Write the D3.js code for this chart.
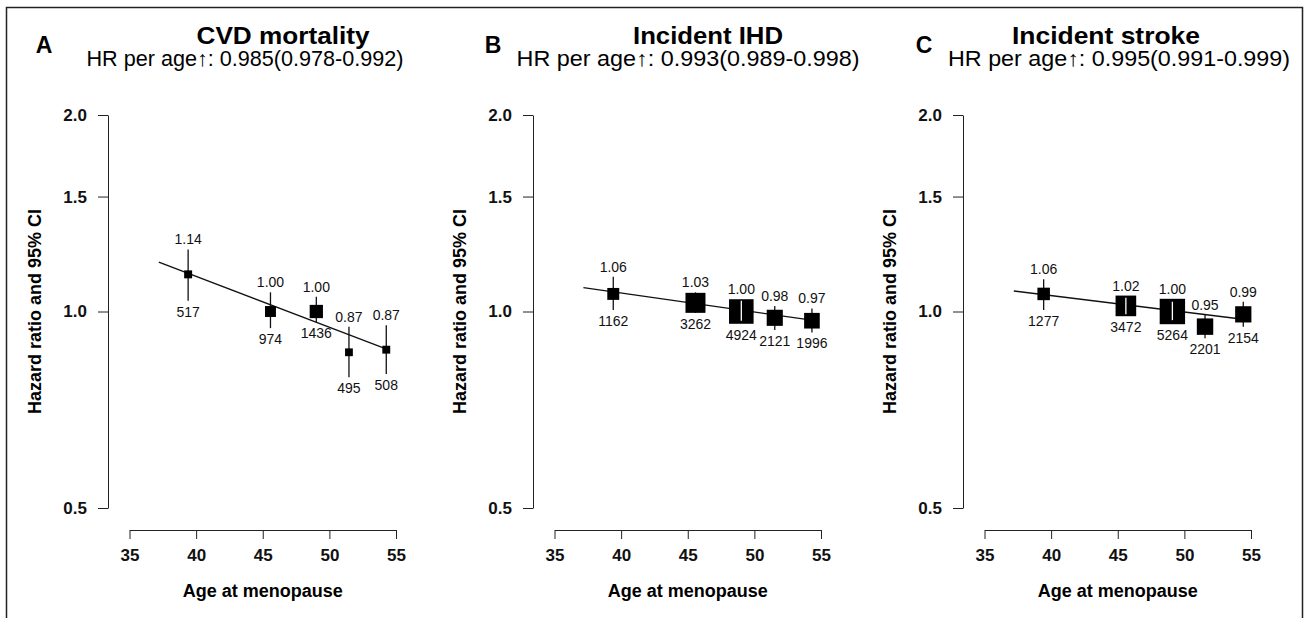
<!DOCTYPE html>
<html>
<head>
<meta charset="utf-8">
<script src="https://cdn.jsdelivr.net/npm/d3@7"></script>
<style>
  body { margin: 0; background: #fff; }
  svg { display: block; font-family: "Liberation Sans", Arial, sans-serif; }
</style>
</head>
<body>
<div id="chart"></div>
<script>
//Chart data
var letters = ["A", "B", "C"];
var titles = ["CVD mortality", "Incident IHD", "Incident stroke"];
var subtitles = [
  "HR per age\u2191: 0.985(0.978-0.992)",
  "HR per age\u2191: 0.993(0.989-0.998)",
  "HR per age\u2191: 0.995(0.991-0.999)"
];
var xTicks = [35, 40, 45, 50, 55];
var yTicks = [0.5, 1.0, 1.5, 2.0];
var ages = [
  [39.4, 45.58, 49.02, 51.47, 54.27],
  [39.41, 45.58, 49.02, 51.53, 54.32],
  [39.44, 45.61, 49.1, 51.55, 54.42]
];
var hr = [
  [1.14, 1.0, 1.0, 0.866, 0.874],
  [1.064, 1.031, 1.0, 0.978, 0.968],
  [1.064, 1.02, 1.0, 0.948, 0.99]
];
var ciLow = [
  [1.039, 0.943, 0.964, 0.793, 0.802],
  [1.005, 0.995, 0.968, 0.937, 0.929],
  [1.005, 0.99, 0.97, 0.91, 0.948]
];
var ciHigh = [
  [1.245, 1.07, 1.053, 0.948, 0.953],
  [1.13, 1.07, 1.039, 1.02, 1.011],
  [1.12, 1.05, 1.035, 0.988, 1.035]
];
var cases = [
  [517, 974, 1436, 495, 508],
  [1162, 3262, 4924, 2121, 1996],
  [1277, 3472, 5264, 2201, 2154]
];
var trendAge = [[37.2, 54.3], [37.17, 54.3], [37.2, 54.4]];
var trendHr = [[1.19, 0.876], [1.088, 0.97], [1.075, 0.973]];

//Layout of the three panels (y axis position, header positions and widths)
var layout = [
  { axisX: 108, letterX: 44, titleX: 283, titleW: 173, subX: 245, subW: 317 },
  { axisX: 533, letterX: 493, titleX: 708, titleW: 150, subX: 688, subW: 343 },
  { axisX: 963, letterX: 924, titleX: 1106, titleW: 188, subX: 1119, subW: 342 }
];
var W = 1307, H = 618;
var yTop = 115, yBottom = 508, xAxisY = 530;

var svg = d3.select("#chart").append("svg")
  .attr("width", W).attr("height", H);

//outer frame
svg.append("path")
  .attr("d", "M6.5," + H + "V7.5H1302.5V" + H)
  .attr("fill", "none")
  .attr("stroke", "#222")
  .attr("stroke-width", 1.5);

var y = d3.scaleLog().domain([0.5, 2]).range([yBottom, yTop]);
var size = d3.scaleSqrt().domain([0, 5264]).range([0, 25.4]);

letters.forEach(function (letter, p) {
  var L = layout[p];
  var x = d3.scaleLinear().domain([35, 55]).range([L.axisX + 21.5, L.axisX + 288]);
  var g = svg.append("g");

  //headers
  g.append("text").attr("x", L.letterX).attr("y", 53)
    .attr("text-anchor", "middle").style("font-size", "23px").style("font-weight", "bold")
    .text(letter);
  g.append("text").attr("x", L.titleX).attr("y", 44)
    .attr("text-anchor", "middle").style("font-size", "24px").style("font-weight", "bold")
    .attr("textLength", L.titleW).attr("lengthAdjust", "spacingAndGlyphs")
    .text(titles[p]);
  g.append("text").attr("x", L.subX).attr("y", 66)
    .attr("text-anchor", "middle").style("font-size", "21.5px")
    .attr("textLength", L.subW).attr("lengthAdjust", "spacingAndGlyphs")
    .text(subtitles[p]);

  // Y axis
  var ya = g.append("g")
    .attr("transform", "translate(" + L.axisX + ",0)")
    .call(d3.axisLeft(y).tickValues(yTicks).tickFormat(d3.format(".1f"))
      .tickSize(10).tickSizeOuter(0).tickPadding(11));
  ya.selectAll("path, line").attr("stroke", "#222");
  ya.selectAll("text").style("font-size", "17px").style("font-weight", "bold")
    .attr("fill", "#111").style("font-family", "inherit");

  g.append("text")
    .attr("transform", "translate(" + (L.axisX - 73) + "," + (yTop + yBottom) / 2 + ") rotate(-90)")
    .attr("text-anchor", "middle").attr("dy", "0.35em")
    .style("font-size", "18px").style("font-weight", "bold")
    .text("Hazard ratio and 95% CI");

  // X axis
  var xa = g.append("g")
    .attr("transform", "translate(0," + xAxisY + ")")
    .call(d3.axisBottom(x).tickValues(xTicks).tickSize(9).tickSizeOuter(0).tickPadding(10));
  xa.selectAll("path, line").attr("stroke", "#222");
  xa.selectAll("text").style("font-size", "17px").style("font-weight", "bold")
    .attr("fill", "#111").style("font-family", "inherit");

  g.append("text").attr("x", (x(35) + x(55)) / 2).attr("y", 597)
    .attr("text-anchor", "middle").style("font-size", "18px").style("font-weight", "bold")
    .text("Age at menopause");

  // trend line
  g.append("line")
    .attr("x1", x(trendAge[p][0])).attr("y1", y(trendHr[p][0]))
    .attr("x2", x(trendAge[p][1])).attr("y2", y(trendHr[p][1]))
    .attr("stroke", "#111").attr("stroke-width", 1.3);

  var rows = ages[p].map(function (a, i) {
    return { age: a, hr: hr[p][i], lo: ciLow[p][i], hi: ciHigh[p][i], n: cases[p][i] };
  });

  var pts = g.selectAll(".pt").data(rows).enter().append("g").attr("class", "pt");

  // CI drawn black under the box when it reaches past it
  pts.append("line")
    .attr("x1", function (d) { return x(d.age); })
    .attr("x2", function (d) { return x(d.age); })
    .attr("y1", function (d) { return y(d.hi); })
    .attr("y2", function (d) { return y(d.lo); })
    .attr("stroke", "#111").attr("stroke-width", 1.3);

  pts.append("rect")
    .attr("x", function (d) { return x(d.age) - size(d.n) / 2; })
    .attr("y", function (d) { return y(d.hr) - size(d.n) / 2; })
    .attr("width", function (d) { return size(d.n); })
    .attr("height", function (d) { return size(d.n); })
    .attr("fill", "#000");

  // white CI when the box hides it
  pts.filter(function (d) { return y(d.lo) - y(d.hi) < size(d.n); })
    .append("line")
    .attr("x1", function (d) { return x(d.age); })
    .attr("x2", function (d) { return x(d.age); })
    .attr("y1", function (d) { return y(d.hi); })
    .attr("y2", function (d) { return y(d.lo); })
    .attr("stroke", "#fff").attr("stroke-width", 1.3);

  // labels: HR above, number of cases below
  pts.append("text")
    .attr("x", function (d) { return x(d.age); })
    .attr("y", function (d) { return Math.min(y(d.hi), y(d.hr) - size(d.n) / 2) - 5; })
    .attr("text-anchor", "middle").style("font-size", "14px").attr("fill", "#111")
    .text(function (d) { return d.hr.toFixed(2); });
  pts.append("text")
    .attr("x", function (d) { return x(d.age); })
    .attr("y", function (d) { return Math.max(y(d.lo), y(d.hr) + size(d.n) / 2) + 16; })
    .attr("text-anchor", "middle").style("font-size", "14px").attr("fill", "#111")
    .text(function (d) { return d.n; });
});
</script>
</body>
</html>
